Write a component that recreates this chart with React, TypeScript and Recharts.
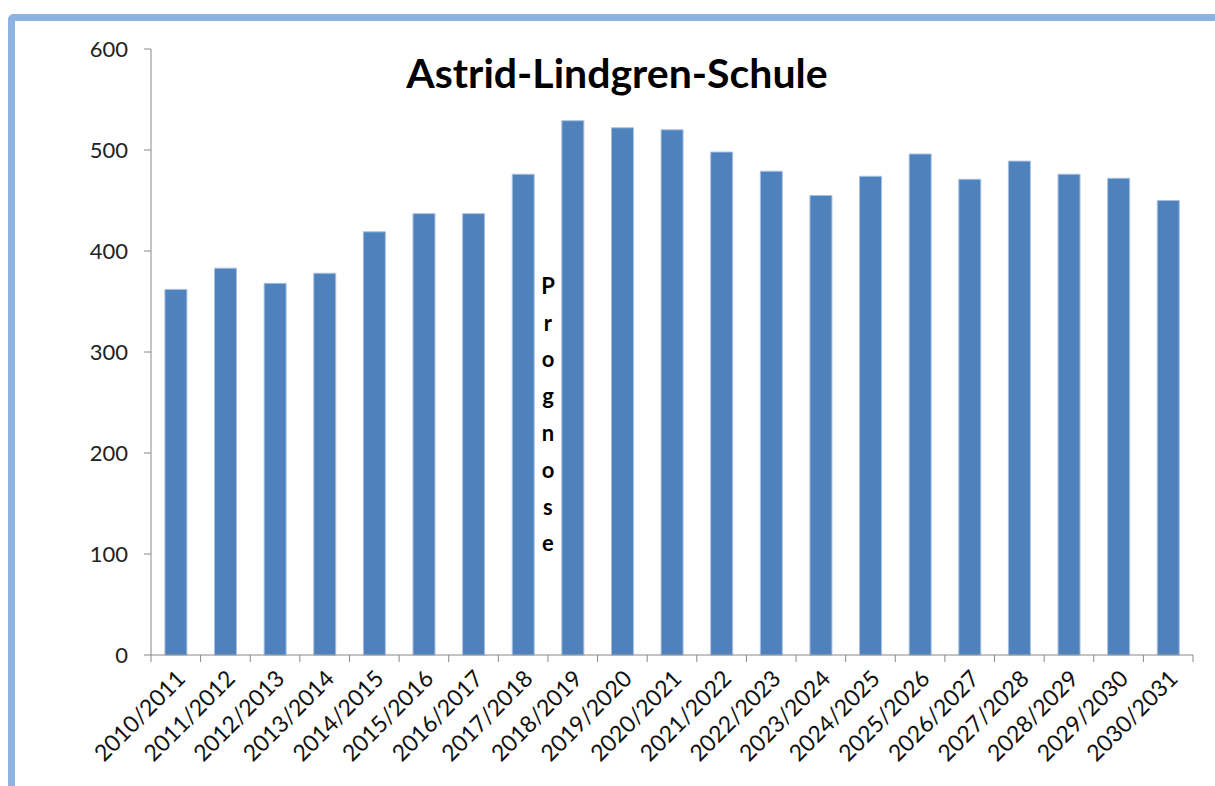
import React from 'react';
import { BarChart, Bar, XAxis, YAxis, ReferenceLine } from 'recharts';

const schoolYears = [
  '2010/2011', '2011/2012', '2012/2013', '2013/2014', '2014/2015', '2015/2016', '2016/2017',
  '2017/2018', '2018/2019', '2019/2020', '2020/2021', '2021/2022', '2022/2023', '2023/2024',
  '2024/2025', '2025/2026', '2026/2027', '2027/2028', '2028/2029', '2029/2030', '2030/2031',
];
const pupils = [
  362, 383, 368, 378, 419, 437, 437, 476, 529, 522, 520, 498, 479, 455, 474, 496, 471, 489, 476, 472, 450,
];
const yTicks = [0, 100, 200, 300, 400, 500, 600];
const forecastStart = '2018/2019';
const forecastWord = 'Prognose';

const data = schoolYears.map((year, i) => ({ year, value: pupils[i] }));

const W = 1215;
const H = 786;
const LEFT = 151;
const RIGHT = 22;
const BAND = (W - LEFT - RIGHT) / schoolYears.length;
const FONT = "Lato, 'Open Sans', sans-serif";

const YearTick = (props: any) => {
  const { x, y, payload, index } = props;
  const tx = x + 11;
  const ty = y + 25;
  return (
    <g>
      <line x1={x - BAND / 2} y1={y} x2={x - BAND / 2} y2={y + 7} stroke="#888" />
      {index === schoolYears.length - 1 && (
        <line x1={x + BAND / 2} y1={y} x2={x + BAND / 2} y2={y + 7} stroke="#888" />
      )}
      <text
        x={tx}
        y={ty}
        textAnchor="end"
        transform={`rotate(-45, ${tx}, ${ty})`}
        fontSize={23}
        fontFamily={FONT}
        fill="#111"
      >
        {payload.value}
      </text>
    </g>
  );
};

const ForecastLabel = (props: any) => {
  const { viewBox } = props;
  const cx = viewBox.x;
  const top = viewBox.y + viewBox.height * 0.39;
  const step = viewBox.height * 0.0607;
  return (
    <g>
      {forecastWord.split('').map((ch, i) => (
        <text
          key={i}
          x={cx}
          y={top + i * step}
          textAnchor="middle"
          dominantBaseline="central"
          fontSize={22}
          fontWeight={700}
          fontFamily={FONT}
          fill="#000"
        >
          {ch}
        </text>
      ))}
    </g>
  );
};

export default function App() {
  return (
    <div style={{ position: 'absolute', left: 0, top: 0, width: W, height: H, background: '#fff' }}>
      <div
        style={{
          position: 'absolute',
          left: 8,
          top: 14,
          right: 0,
          bottom: 0,
          borderTop: '7px solid #8DB3E2',
          borderLeft: '7px solid #8DB3E2',
          borderTopLeftRadius: 6,
        }}
      />
      <div style={{ position: 'absolute', left: 0, top: 0 }}>
        <BarChart
          width={W}
          height={H}
          data={data}
          margin={{ top: 49, right: RIGHT, left: 0, bottom: 21 }}
          barCategoryGap="28%"
        >
          <text
            x={617}
            y={72}
            textAnchor="middle"
            dominantBaseline="central"
            fontSize={41}
            fontWeight={700}
            fontFamily={FONT}
            fill="#000"
          >
            Astrid-Lindgren-Schule
          </text>
          <XAxis
            dataKey="year"
            interval={0}
            height={110}
            tickSize={0}
            tickMargin={0}
            axisLine={{ stroke: '#888' }}
            tick={<YearTick />}
          />
          <YAxis
            width={LEFT}
            domain={[0, 600]}
            ticks={yTicks}
            tickSize={7}
            tickMargin={16}
            axisLine={{ stroke: '#888' }}
            tickLine={{ stroke: '#888' }}
            tick={{ fontSize: 22, fontFamily: FONT, fill: '#222' }}
          />
          <ReferenceLine
            x={forecastStart}
            position="start"
            stroke="none"
            label={<ForecastLabel />}
          />
          <Bar dataKey="value" fill="#4F81BD" stroke="#A9C1E0" strokeWidth={1} isAnimationActive={false} />
        </BarChart>
      </div>
    </div>
  );
}
